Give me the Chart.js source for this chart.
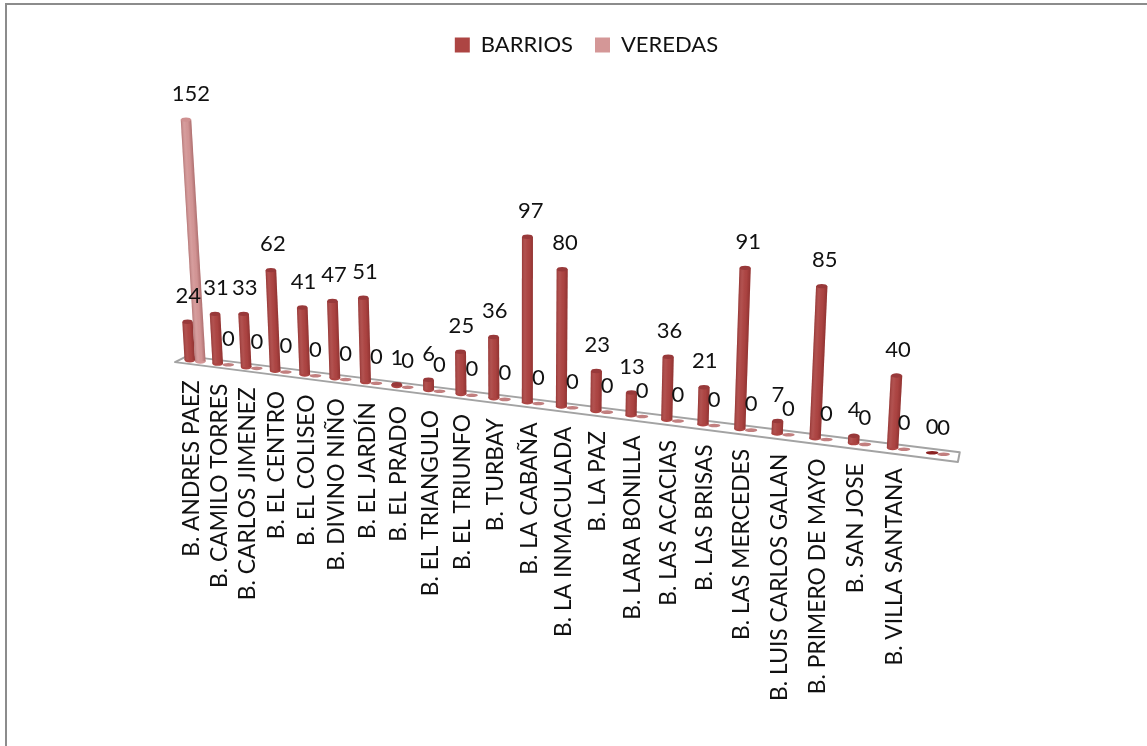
<!DOCTYPE html>
<html lang="es">
<head>
<meta charset="utf-8">
<title>Barrios y veredas</title>
<script src="https://cdn.jsdelivr.net/npm/chart.js@4"></script>
<style>
html,body{margin:0;padding:0;background:#fff;width:1147px;height:746px;overflow:hidden}
#wrap{position:absolute;left:0;top:0;width:1147px;height:746px}
#frame{position:absolute;left:5px;top:3px;width:1200px;height:800px;border:2px solid #8c8c8c;box-sizing:border-box;pointer-events:none}
</style>
</head>
<body>
<div id="wrap"><canvas id="c" width="1147" height="746"></canvas></div>
<div id="frame"></div>
<script>
const categories = ["B. ANDRES PAEZ","B. CAMILO TORRES","B. CARLOS JIMENEZ","B. EL CENTRO","B. EL COLISEO","B. DIVINO NIÑO","B. EL JARDÍN","B. EL PRADO","B. EL TRIANGULO","B. EL TRIUNFO","B. TURBAY","B. LA CABAÑA","B. LA INMACULADA","B. LA PAZ","B. LARA BONILLA","B. LAS ACACIAS","B. LAS BRISAS","B. LAS MERCEDES","B. LUIS CARLOS GALAN","B. PRIMERO DE MAYO","B. SAN JOSE","B. VILLA SANTANA",""];
const barrios = [24,31,33,62,41,47,51,1,6,25,36,97,80,23,13,36,21,91,7,85,4,40,0];
const veredas = [152,0,0,0,0,0,0,0,0,0,0,0,0,0,0,0,0,0,0,0,0,0,0];
const yMax = 160;
const FONT = 'Lato, "Open Sans", sans-serif';
const TEXT = '#111111';
const sx = u => 181.3 + 629.6*u + 147*u*u;
const sy = x => 360 + 0.125*(x-190);
const unitPx = u => 1.585 + 0.24*u;
const leanOf = u => -0.062 + 0.125*u;

const view3d = {
  id:'view3d',
  beforeDatasetsDraw(chart){
    const ctx = chart.ctx, xs = chart.scales.x, ys = chart.scales.y;
    const pxPerUnitChart = ys.height/yMax;
    const place = (el,idx)=>{
      const c = xs.getPixelForValue(idx);
      const u = (c-xs.left)/xs.width;
      const wf = 1.0+0.1*u;
      const bx = sx(u)+(el.x-c)*wf, by = sy(bx);
      const k = unitPx(u)/pxPerUnitChart, lean = leanOf(u);
      const h = (el.base-el.y)*k;
      return {u,wf,bx,by,k,lean,h,tx:bx+h*lean,ty:by-h};
    };
    // floor
    const fp = (u,d)=>{const x=sx(u); return [x,sy(x)+d];};
    const pts=[fp(-0.01,4),fp(0.009,-3.5),fp(1.002,-4),fp(1,6)];
    ctx.save();
    ctx.beginPath();
    pts.forEach((p,i)=>i?ctx.lineTo(p[0],p[1]):ctx.moveTo(p[0],p[1]));
    ctx.closePath();
    ctx.fillStyle='#ffffff'; ctx.fill();
    ctx.strokeStyle='#a3a3a3'; ctx.lineWidth=2; ctx.lineJoin='round'; ctx.stroke();
    ctx.restore();

    const metas=[chart.getDatasetMeta(0),chart.getDatasetMeta(1)];
    const tones=[{side:'#ad4543',top:'#98393a',zero:'#8a2020'},{side:'#d49797',top:'#cf9090',zero:'#c27f7f'}];
    categories.forEach((_,i)=>{
      metas.forEach((m,d)=>{
        const el=m.data[i], p=place(el,i), t=tones[d];
        const rx=el.width*p.wf/2;
        if(p.h<0.5){
          ctx.fillStyle=t.zero;
          ctx.beginPath();ctx.ellipse(p.bx,p.by,rx+0.5,1.8,0,0,Math.PI*2);ctx.fill();
          return;
        }
        ctx.fillStyle=t.side;
        ctx.beginPath();ctx.ellipse(p.bx,p.by,rx,2.4,0,0,Math.PI*2);ctx.fill();
        ctx.save();
        const a=p.wf,c=-p.k*p.lean,dd=p.k;
        ctx.transform(a,0,c,dd,p.bx-a*el.x+el.base*p.k*p.lean,p.by-dd*el.base);
        el.draw(ctx);
        const g=ctx.createLinearGradient(el.x-el.width/2,0,el.x+el.width/2,0);
        g.addColorStop(0,'rgba(70,0,0,.22)');
        g.addColorStop(.35,'rgba(255,255,255,.05)');
        g.addColorStop(.65,'rgba(70,0,0,.02)');
        g.addColorStop(1,'rgba(70,0,0,.26)');
        ctx.fillStyle=g;
        ctx.fillRect(el.x-el.width/2,el.y,el.width,el.base-el.y);
        ctx.restore();
        ctx.fillStyle=t.top;
        ctx.beginPath();ctx.ellipse(p.tx,p.ty,rx*0.95,2.2,0,0,Math.PI*2);ctx.fill();
      });
    });
    // value labels
    ctx.save();
    ctx.fillStyle=TEXT;ctx.font='22px '+FONT;ctx.textAlign='center';ctx.textBaseline='middle';
    metas.forEach((m,d)=>{
      const vals=d?veredas:barrios;
      m.data.forEach((el,i)=>{
        const p=place(el,i);
        ctx.fillText(String(vals[i]),p.tx+p.h*0.02,p.ty-26);
      });
    });
    ctx.restore();
    // category labels
    ctx.save();
    ctx.fillStyle=TEXT;ctx.font='22.8px '+FONT;ctx.textAlign='right';ctx.textBaseline='middle';
    categories.forEach((label,i)=>{
      if(!label) return;
      const u=(xs.getPixelForValue(i)-xs.left)/xs.width;
      const x=sx(u)-3.5, y=sy(x)+20;
      ctx.save();ctx.translate(x,y);ctx.rotate(-Math.PI/2);ctx.fillText(label,0,0);ctx.restore();
    });
    ctx.restore();
    return false;
  }
};

new Chart(document.getElementById('c'),{
  type:'bar',
  data:{labels:categories,datasets:[
    {label:'BARRIOS',data:barrios,backgroundColor:'#ad4543',categoryPercentage:0.43,barPercentage:1},
    {label:'VEREDAS',data:veredas,backgroundColor:'#d49797',categoryPercentage:0.43,barPercentage:1}
  ]},
  options:{
    responsive:false,animation:false,events:[],
    layout:{padding:{left:26,right:0,top:12,bottom:120}},
    plugins:{
      tooltip:{enabled:false},
      legend:{display:true,position:'top',labels:{boxWidth:15,boxHeight:15,padding:22,color:TEXT,font:{family:FONT,size:22}}}
    },
    scales:{
      x:{display:false},
      y:{display:false,min:0,max:yMax}
    }
  },
  plugins:[view3d]
});
</script>
</body>
</html>
